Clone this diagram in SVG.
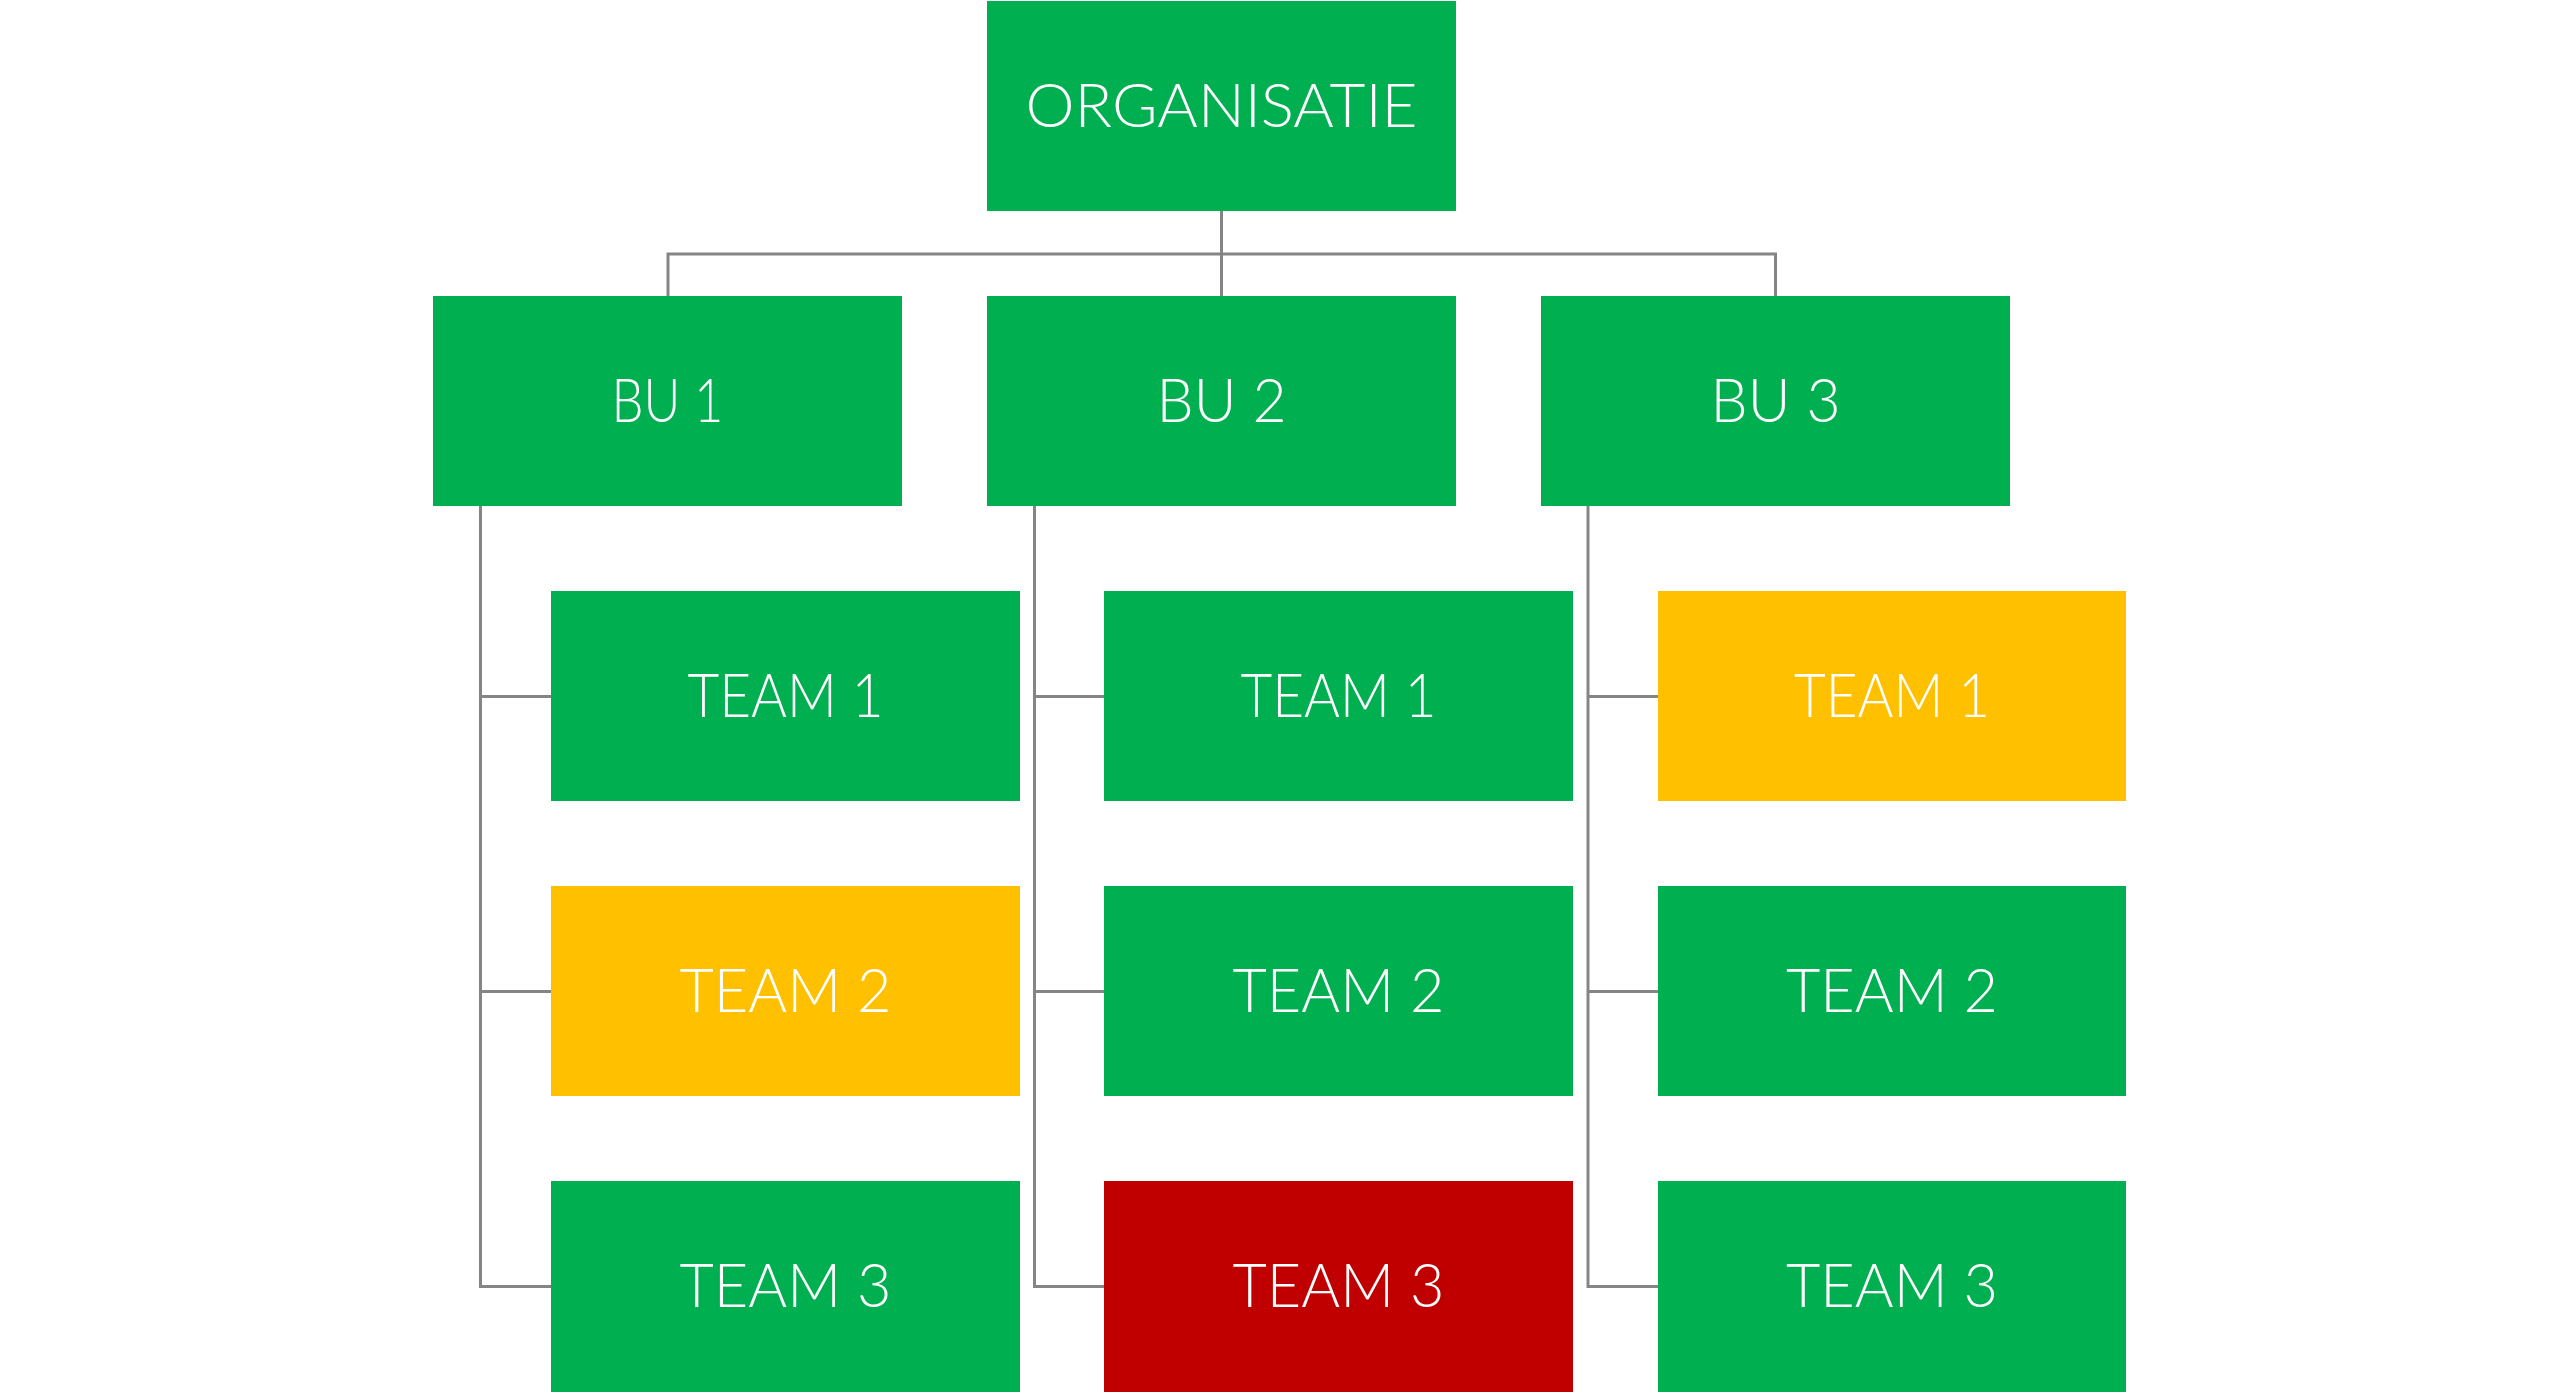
<svg xmlns="http://www.w3.org/2000/svg" width="2560" height="1392" viewBox="0 0 2560 1392">
<style>
.box{stroke:none}
.g{fill:#00B050}
.y{fill:#FFC000}
.r{fill:#C00000}
.t{fill:#FFFFFF;font-family:"Lato","Open Sans","Liberation Sans",sans-serif;font-weight:300;font-size:61px;text-anchor:middle}
.c{fill:none;stroke:#858585;stroke-width:3}
</style>
<rect width="2560" height="1392" fill="#FFFFFF"/>
<g id="connectors">
<path class="c" d="M1221.5 211 V296 M668 296 V254 H1775.5 V296"/>
<path class="c" d="M480.5 506 V1286.5 H551 M480.5 696.5 H551 M480.5 991.5 H551"/>
<path class="c" d="M1034.5 506 V1286.5 H1104 M1034.5 696.5 H1104 M1034.5 991.5 H1104"/>
<path class="c" d="M1588 506 V1286.5 H1658 M1588 696.5 H1658 M1588 991.5 H1658"/>
</g>
<g id="org"><rect class="box g" x="987" y="1" width="469" height="210"/><text class="t" x="1221.5" y="127" textLength="392" lengthAdjust="spacingAndGlyphs">ORGANISATIE</text></g>
<g id="bu1"><rect class="box g" x="433" y="296" width="469" height="210"/><text class="t" x="667.5" y="422" textLength="112" lengthAdjust="spacingAndGlyphs">BU 1</text></g>
<g id="bu2"><rect class="box g" x="987" y="296" width="469" height="210"/><text class="t" x="1221.5" y="422" textLength="130" lengthAdjust="spacingAndGlyphs">BU 2</text></g>
<g id="bu3"><rect class="box g" x="1541" y="296" width="469" height="210"/><text class="t" x="1775.5" y="422" textLength="130" lengthAdjust="spacingAndGlyphs">BU 3</text></g>
<g id="bu1-team1"><rect class="box g" x="551" y="591" width="469" height="210"/><text class="t" x="785.5" y="717" textLength="196" lengthAdjust="spacingAndGlyphs">TEAM 1</text></g>
<g id="bu1-team2"><rect class="box y" x="551" y="886" width="469" height="210"/><text class="t" x="785.5" y="1012" textLength="212" lengthAdjust="spacingAndGlyphs">TEAM 2</text></g>
<g id="bu1-team3"><rect class="box g" x="551" y="1181" width="469" height="211"/><text class="t" x="785.5" y="1307" textLength="212" lengthAdjust="spacingAndGlyphs">TEAM 3</text></g>
<g id="bu2-team1"><rect class="box g" x="1104" y="591" width="469" height="210"/><text class="t" x="1338.5" y="717" textLength="196" lengthAdjust="spacingAndGlyphs">TEAM 1</text></g>
<g id="bu2-team2"><rect class="box g" x="1104" y="886" width="469" height="210"/><text class="t" x="1338.5" y="1012" textLength="212" lengthAdjust="spacingAndGlyphs">TEAM 2</text></g>
<g id="bu2-team3"><rect class="box r" x="1104" y="1181" width="469" height="211"/><text class="t" x="1338.5" y="1307" textLength="212" lengthAdjust="spacingAndGlyphs">TEAM 3</text></g>
<g id="bu3-team1"><rect class="box y" x="1658" y="591" width="468" height="210"/><text class="t" x="1892" y="717" textLength="196" lengthAdjust="spacingAndGlyphs">TEAM 1</text></g>
<g id="bu3-team2"><rect class="box g" x="1658" y="886" width="468" height="210"/><text class="t" x="1892" y="1012" textLength="212" lengthAdjust="spacingAndGlyphs">TEAM 2</text></g>
<g id="bu3-team3"><rect class="box g" x="1658" y="1181" width="468" height="211"/><text class="t" x="1892" y="1307" textLength="212" lengthAdjust="spacingAndGlyphs">TEAM 3</text></g>
</svg>
